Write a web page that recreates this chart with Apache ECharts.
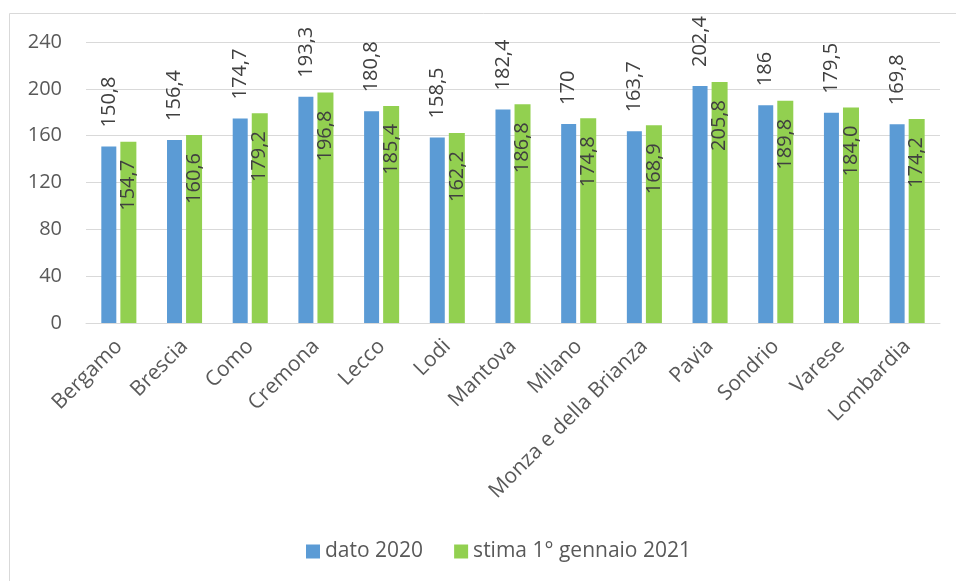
<!DOCTYPE html>
<html>
<head>
<meta charset="utf-8">
<script src="https://cdn.jsdelivr.net/npm/echarts@6/dist/echarts.min.js"></script>
<style>
  html, body { margin: 0; padding: 0; background: #fff; }
  #chart { width: 956px; height: 581px; }
</style>
</head>
<body>
<div id="chart"></div>
<script>
const categories = ['Bergamo', 'Brescia', 'Como', 'Cremona', 'Lecco', 'Lodi', 'Mantova', 'Milano',
  'Monza e della Brianza', 'Pavia', 'Sondrio', 'Varese', 'Lombardia']
const dato2020 = [150.8, 156.4, 174.7, 193.3, 180.8, 158.5, 182.4, 170, 163.7, 202.4, 186, 179.5, 169.8]
const stima2021 = [154.7, 160.6, 179.2, 196.8, 185.4, 162.2, 186.8, 174.8, 168.9, 205.8, 189.8, 184.0, 174.2]
// etichette come nell'originale (virgola decimale)
const dato2020Labels = ['150,8', '156,4', '174,7', '193,3', '180,8', '158,5', '182,4', '170', '163,7', '202,4', '186', '179,5', '169,8']
const stima2021Labels = ['154,7', '160,6', '179,2', '196,8', '185,4', '162,2', '186,8', '174,8', '168,9', '205,8', '189,8', '184,0', '174,2']

const font = '"Open Sans", "Noto Sans", sans-serif'
const chart = echarts.init(document.getElementById('chart'))

chart.setOption({
  animation: false,
  textStyle: { fontFamily: font },
  graphic: [{
    type: 'rect',
    shape: { x: 9.5, y: 13.5, width: 980, height: 620 },
    style: { fill: 'none', stroke: '#d9d9d9', lineWidth: 1 },
    silent: true,
  }],
  grid: { left: 86, right: 16, top: 42, bottom: 258, containLabel: false },
  legend: {
    top: 536,
    left: 301,
    itemWidth: 14,
    itemHeight: 14,
    itemGap: 31,
    icon: 'rect',
    textStyle: { fontSize: 21, color: '#595959', fontFamily: font },
    data: ['dato 2020', 'stima 1° gennaio 2021'],
  },
  xAxis: {
    type: 'category',
    data: categories,
    axisLine: { lineStyle: { color: '#d9d9d9' } },
    axisTick: { show: false },
    axisLabel: {
      interval: 0,
      rotate: 45,
      margin: 20,
      fontSize: 21,
      color: '#595959',
      fontFamily: font,
    },
  },
  yAxis: {
    type: 'value',
    min: 0,
    max: 240,
    interval: 40,
    axisLine: { show: false },
    axisTick: { show: false },
    axisLabel: { fontSize: 20, color: '#595959', margin: 24, fontFamily: font },
    splitLine: { lineStyle: { color: '#d9d9d9', width: 1 } },
  },
  series: [
    {
      name: 'dato 2020',
      type: 'bar',
      data: dato2020,
      barWidth: 15,
      barGap: '27%',
      itemStyle: { color: '#5b9bd5' },
      label: {
        show: true,
        position: 'top',
        distance: 19,
        rotate: 90,
        align: 'left',
        verticalAlign: 'middle',
        fontSize: 20,
        color: '#404040',
        fontFamily: font,
        formatter: (p) => dato2020Labels[p.dataIndex],
      },
    },
    {
      name: 'stima 1° gennaio 2021',
      type: 'bar',
      data: stima2021,
      barWidth: 16,
      itemStyle: { color: '#92d050' },
      label: {
        show: true,
        position: 'insideTop',
        distance: 18,
        rotate: 90,
        align: 'right',
        verticalAlign: 'middle',
        fontSize: 20,
        color: '#404040',
        fontFamily: font,
        formatter: (p) => stima2021Labels[p.dataIndex],
      },
    },
  ],
})
</script>
</body>
</html>
